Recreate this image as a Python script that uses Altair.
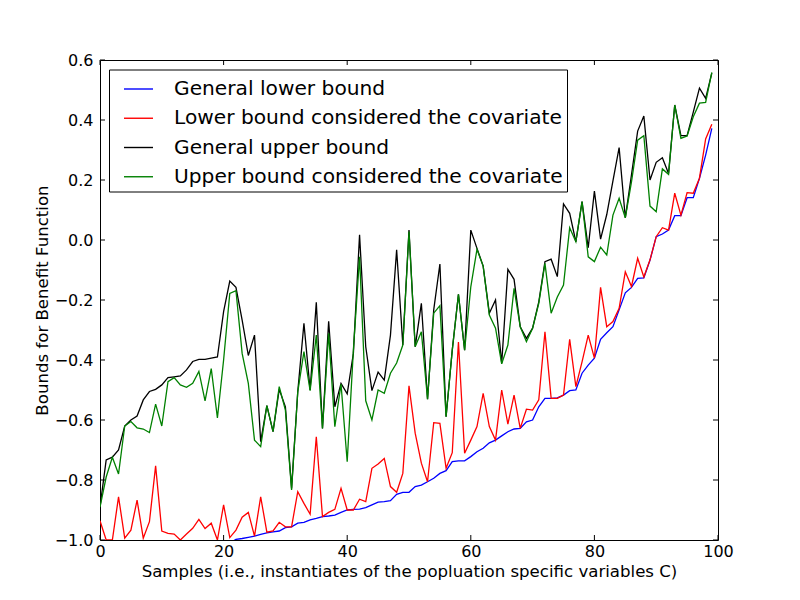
import altair as alt
import pandas as pd

samples = list(range(100))

series_names = [
    "General lower bound",
    "Lower bound considered the covariate",
    "General upper bound",
    "Upper bound considered the covariate",
]
series_colors = ["#0000ff", "#ff0000", "#000000", "#008000"]

general_lower = [
    -1.12, -1.11, -1.11, -1.10, -1.10, -1.09, -1.09, -1.08, -1.08, -1.07,
    -1.07, -1.06, -1.06, -1.05, -1.05, -1.04, -1.04, -1.03, -1.03, -1.02,
    -1.02, -1.01, -0.998, -0.995, -0.991, -0.987, -0.981, -0.976, -0.973, -0.970,
    -0.959, -0.956, -0.944, -0.941, -0.933, -0.928, -0.922, -0.920, -0.917, -0.908,
    -0.900, -0.898, -0.897, -0.892, -0.883, -0.874, -0.872, -0.869, -0.848, -0.841,
    -0.841, -0.822, -0.817, -0.806, -0.794, -0.778, -0.769, -0.739, -0.736, -0.736,
    -0.722, -0.706, -0.694, -0.676, -0.667, -0.653, -0.639, -0.630, -0.628, -0.606,
    -0.600, -0.556, -0.528, -0.528, -0.526, -0.517, -0.502, -0.500, -0.444, -0.417,
    -0.394, -0.331, -0.309, -0.289, -0.233, -0.176, -0.158, -0.128, -0.126, -0.067,
    0.011, 0.020, 0.033, 0.081, 0.081, 0.141, 0.141, 0.206, 0.283, 0.372,
]

lower_cov = [
    -0.936, -1.0, -1.0, -0.856, -0.994, -0.967, -0.867, -0.994, -0.939, -0.753,
    -0.970, -0.978, -0.980, -1.0, -0.980, -0.961, -0.931, -0.962, -0.944, -1.0,
    -0.883, -0.992, -0.967, -0.924, -0.908, -0.987, -0.856, -0.974, -0.970, -0.941,
    -0.956, -0.956, -0.839, -0.878, -0.914, -0.656, -0.922, -0.908, -0.898, -0.828,
    -0.900, -0.900, -0.864, -0.872, -0.761, -0.747, -0.728, -0.822, -0.841, -0.778,
    -0.486, -0.644, -0.744, -0.806, -0.609, -0.611, -0.761, -0.709, -0.340, -0.711,
    -0.667, -0.622, -0.511, -0.622, -0.667, -0.500, -0.614, -0.517, -0.628, -0.564,
    -0.567, -0.533, -0.306, -0.528, -0.528, -0.517, -0.331, -0.489, -0.406, -0.317,
    -0.394, -0.158, -0.289, -0.272, -0.228, -0.106, -0.155, -0.061, -0.123, -0.066,
    0.011, 0.041, 0.033, 0.156, 0.083, 0.158, 0.156, 0.206, 0.337, 0.386,
]

general_upper = [
    -0.890, -0.733, -0.724, -0.700, -0.620, -0.600, -0.587, -0.533, -0.505, -0.498,
    -0.483, -0.459, -0.456, -0.453, -0.433, -0.405, -0.398, -0.398, -0.394, -0.390,
    -0.239, -0.137, -0.158, -0.267, -0.385, -0.317, -0.672, -0.552, -0.639, -0.498,
    -0.556, -0.828, -0.506, -0.278, -0.500, -0.208, -0.628, -0.271, -0.556, -0.478,
    -0.513, -0.378, 0.017, -0.356, -0.502, -0.440, -0.467, -0.317, -0.033, -0.350,
    0.033, -0.356, -0.211, -0.531, -0.233, -0.080, -0.589, -0.367, -0.181, -0.367,
    0.033, -0.028, -0.087, -0.244, -0.200, -0.411, -0.098, -0.131, -0.289, -0.328,
    -0.294, -0.206, -0.072, -0.064, -0.122, 0.120, 0.089, -0.006, 0.128, -0.026,
    0.163, 0.003, 0.085, 0.197, 0.308, 0.074, 0.217, 0.363, 0.413, 0.200,
    0.259, 0.274, 0.222, 0.450, 0.348, 0.348, 0.426, 0.506, 0.472, 0.556,
]

upper_cov = [
    -0.890, -0.790, -0.724, -0.780, -0.620, -0.605, -0.626, -0.630, -0.642, -0.547,
    -0.620, -0.472, -0.459, -0.483, -0.491, -0.478, -0.438, -0.536, -0.429, -0.593,
    -0.400, -0.178, -0.169, -0.378, -0.478, -0.667, -0.689, -0.552, -0.639, -0.489,
    -0.567, -0.833, -0.506, -0.372, -0.502, -0.317, -0.628, -0.311, -0.622, -0.480,
    -0.739, -0.367, -0.056, -0.536, -0.600, -0.500, -0.511, -0.444, -0.410, -0.350,
    0.028, -0.356, -0.306, -0.531, -0.244, -0.219, -0.589, -0.367, -0.181, -0.367,
    -0.156, -0.031, -0.087, -0.250, -0.294, -0.413, -0.350, -0.161, -0.289, -0.339,
    -0.294, -0.211, -0.078, -0.244, -0.190, -0.150, 0.041, -0.006, 0.128, -0.056,
    -0.072, -0.024, -0.050, 0.083, 0.139, 0.074, 0.194, 0.333, 0.348, 0.113,
    0.094, 0.237, 0.219, 0.450, 0.339, 0.347, 0.411, 0.456, 0.459, 0.559,
]

x_ticks = [0, 20, 40, 60, 80, 100]
y_ticks = [-1.0, -0.8, -0.6, -0.4, -0.2, 0.0, 0.2, 0.4, 0.6]

W, H = 618, 480
FONT = "DejaVu Sans"

all_values = [general_lower, lower_cov, general_upper, upper_cov]
rows = []
for name, vals in zip(series_names, all_values):
    for s, v in zip(samples, vals):
        rows.append({"sample": s, "value": v, "series": name})
df = pd.DataFrame(rows)

x_scale = alt.Scale(domain=[0, 100], nice=False, zero=False)
y_scale = alt.Scale(domain=[-1.0, 0.6], nice=False, zero=False)

color = alt.Color(
    "series:N",
    scale=alt.Scale(domain=series_names, range=series_colors),
    sort=series_names,
    legend=alt.Legend(
        title=None,
        orient="none",
        legendX=9,
        legendY=9.5,
        direction="vertical",
        fillColor="white",
        strokeColor="black",
        padding=4,
        symbolType="stroke",
        symbolSize=841,
        symbolStrokeWidth=1.4,
        symbolOffset=10,
        labelFont=FONT,
        labelFontSize=20.2,
        labelColor="black",
        labelOffset=20,
        labelLimit=600,
    ),
)

x_axis = alt.Axis(
    values=x_ticks,
    title="Samples (i.e., instantiates of the popluation specific variables C)",
    ticks=False,
    domain=False,
    grid=False,
    labelFont=FONT,
    labelFontSize=16,
    labelColor="black",
    labelPadding=3,
    titleFont=FONT,
    titleFontSize=16.6,
    titleFontWeight="normal",
    titleColor="black",
    titlePadding=4,
    labelFlush=False,
)
y_axis = alt.Axis(
    values=y_ticks,
    format=".1f",
    title="Bounds for Benefit Function",
    ticks=False,
    domain=False,
    grid=False,
    labelFont=FONT,
    labelFontSize=16,
    labelColor="black",
    labelPadding=7,
    titleFont=FONT,
    titleFontSize=16.6,
    titleFontWeight="normal",
    titleColor="black",
    titlePadding=4,
    labelFlush=False,
)

layers = []
for name in series_names:
    layer = (
        alt.Chart(df)
        .transform_filter(alt.datum.series == name)
        .mark_line(clip=True, strokeWidth=1.3)
        .encode(
            x=alt.X("sample:Q", scale=x_scale, axis=x_axis),
            y=alt.Y("value:Q", scale=y_scale, axis=y_axis),
            color=color,
        )
    )
    layers.append(layer)

xt_df = pd.DataFrame({"sample": x_ticks})
yt_df = pd.DataFrame({"value": y_ticks})

tick_bottom = alt.Chart(xt_df).mark_rule(color="black", strokeWidth=1).encode(
    x=alt.X("sample:Q", scale=x_scale, axis=x_axis), y=alt.value(H), y2=alt.value(H - 5)
)
tick_top = alt.Chart(xt_df).mark_rule(color="black", strokeWidth=1).encode(
    x=alt.X("sample:Q", scale=x_scale, axis=x_axis), y=alt.value(0), y2=alt.value(5)
)
tick_left = alt.Chart(yt_df).mark_rule(color="black", strokeWidth=1).encode(
    y=alt.Y("value:Q", scale=y_scale, axis=y_axis), x=alt.value(0), x2=alt.value(5)
)
tick_right = alt.Chart(yt_df).mark_rule(color="black", strokeWidth=1).encode(
    y=alt.Y("value:Q", scale=y_scale, axis=y_axis), x=alt.value(W), x2=alt.value(W - 5)
)

chart = (
    alt.layer(*layers, tick_bottom, tick_top, tick_left, tick_right)
    .properties(
        width=W,
        height=H,
        autosize=alt.AutoSizeParams(type="none"),
        padding={"left": 92, "top": 52, "right": 74, "bottom": 52},
    )
    .configure(font=FONT, background="white")
    .configure_view(stroke="black", strokeWidth=1)
    .configure_legend(strokeWidth=1, cornerRadius=0, rowPadding=3.25)
)

chart.save("out.html", embed_options={"renderer": "svg", "actions": False})
